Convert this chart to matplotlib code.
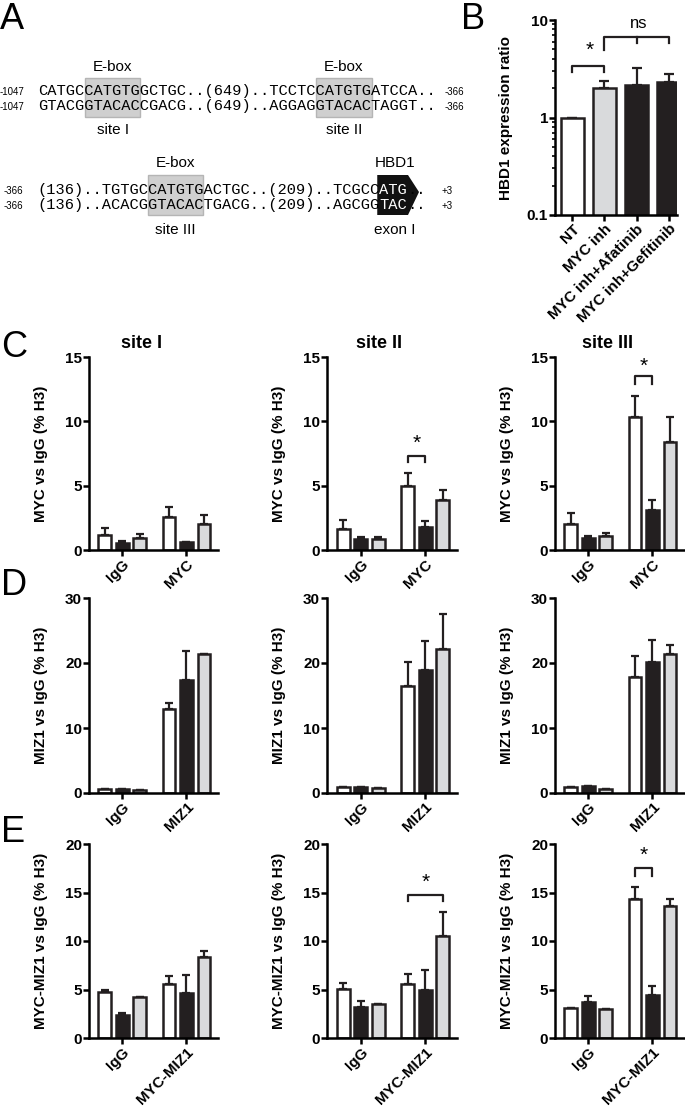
import matplotlib
matplotlib.use('Agg')
import matplotlib.pyplot as plt
from matplotlib.patches import Rectangle, Polygon
import numpy as np

plt.rcParams['font.family'] = ['Liberation Sans', 'DejaVu Sans']
plt.rcParams['font.weight'] = 'bold'
plt.rcParams['axes.labelweight'] = 'bold'

# ---- dados ----
b_labels = ['NT', 'MYC inh', 'MYC inh+Afatinib', 'MYC inh+Gefitinib']
b_vals = [1.0, 2.0, 2.15, 2.3]
b_err = [0.0, 0.37, 1.05, 0.49]
b_colors = ['white', '#d9dadc', '#231f20', '#231f20']

sites = ['site I', 'site II', 'site III']
bar_colors = ['white', '#231f20', '#d9dadc', 'white', '#231f20', '#d9dadc']

myc_means = [[1.15, 0.56, 0.95, 2.56, 0.59, 2.05],
             [1.62, 0.82, 0.82, 4.95, 1.77, 3.90],
             [2.03, 0.90, 1.10, 10.33, 3.10, 8.40]]
myc_errs = [[0.55, 0.13, 0.28, 0.77, 0.05, 0.69],
            [0.68, 0.21, 0.21, 1.00, 0.46, 0.77],
            [0.82, 0.20, 0.25, 1.67, 0.80, 1.93]]

miz_means = [[0.6, 0.6, 0.5, 12.9, 17.4, 21.4],
             [0.9, 0.9, 0.7, 16.5, 19.0, 22.1],
             [0.9, 1.1, 0.6, 17.8, 20.2, 21.4]]
miz_errs = [[0, 0, 0, 1.0, 4.5, 0],
            [0, 0, 0, 3.7, 4.4, 5.5],
            [0, 0, 0, 3.3, 3.3, 1.4]]

mm_means = [[4.77, 2.33, 4.25, 5.56, 4.67, 8.40],
            [5.04, 3.19, 3.50, 5.60, 4.97, 10.53],
            [3.05, 3.74, 2.98, 14.34, 4.39, 13.62]]
mm_errs = [[0.20, 0.24, 0, 0.82, 1.81, 0.60],
           [0.66, 0.58, 0, 0.99, 1.99, 2.44],
           [0, 0.55, 0, 1.20, 1.00, 0.75]]

# colchetes de significancia: (linha, site, barra1, barra2, y_pernas, y_topo, y_estrela)
brackets = [('C', 1, 3, 4, 6.85, 7.3, 8.3),
            ('C', 2, 3, 4, 12.9, 13.5, 14.3),
            ('E', 1, 3, 5, 14.1, 14.75, 16.1),
            ('E', 2, 3, 4, 16.7, 17.5, 18.8)]

W, H = 685, 1106
fig = plt.figure(figsize=(W / 100, H / 100), dpi=100)


def px_axes(x0, y0, x1, y1):
    return fig.add_axes([x0 / W, 1 - y1 / H, (x1 - x0) / W, (y1 - y0) / H])


def prism(ax):
    for s in ['top', 'right']:
        ax.spines[s].set_visible(False)
    for s in ['left', 'bottom']:
        ax.spines[s].set_linewidth(1.8)
    ax.tick_params(width=1.8, length=4, labelsize=11, pad=1)
    ax.tick_params(axis='x', direction='out')


# ---- painel A (camada de fundo em pixels) ----
ax0 = fig.add_axes([0, 0, 1, 1])
ax0.set_xlim(0, W)
ax0.set_ylim(H, 0)
ax0.axis('off')

mono = dict(family='Liberation Mono', fontsize=11.1, fontweight='normal', va='baseline')
cw = 11.1 / 72 * 100 * 0.6
sans = dict(fontsize=11, fontweight='normal', ha='center', va='center')

for lbl, x, y in [('A', 0, 2), ('B', 461, 2), ('C', 1, 330), ('D', 1, 568), ('E', 1, 815)]:
    ax0.text(x, y, lbl, fontsize=26, fontweight='normal', va='top', ha='left')

x1 = 38.6
ax0.add_patch(Rectangle((x1 + 5 * cw, 78), 6 * cw, 39, fc='#cfcfcf', ec='#b5b5b5', lw=1))
ax0.add_patch(Rectangle((x1 + 30 * cw, 78), 6 * cw, 39, fc='#cfcfcf', ec='#b5b5b5', lw=1))
ax0.text(x1, 95, 'CATGCCATGTGGCTGC..(649)..TCCTCCATGTGATCCA..', **mono)
ax0.text(x1, 110, 'GTACGGTACACCGACG..(649)..AGGAGGTACACTAGGT..', **mono)
ax0.text(x1 + 8 * cw, 67, 'E-box', **sans)
ax0.text(x1 + 33 * cw, 67, 'E-box', **sans)
ax0.text(x1 + 8 * cw, 130, 'site I', **sans)
ax0.text(x1 + 33 * cw, 130, 'site II', **sans)
for y in [95, 110]:
    ax0.text(0, y, '-1047', fontsize=7, fontweight='normal', va='baseline')
    ax0.text(445, y, '-366', fontsize=7, fontweight='normal', va='baseline')

x2 = 37.0
ax0.add_patch(Rectangle((x2 + 12 * cw, 175), 6 * cw, 40, fc='#cfcfcf', ec='#b5b5b5', lw=1))
ax0.add_patch(Polygon([(x2 + 37 * cw - 2, 175), (408, 175), (419, 192), (408, 215),
                       (x2 + 37 * cw - 2, 215)], closed=True, fc='#111111', ec='none'))
for y, pre, ex in [(194, '(136)..TGTGCCATGTGACTGC..(209)..TCGCC', 'ATG'),
                   (209, '(136)..ACACGGTACACTGACG..(209)..AGCGG', 'TAC')]:
    ax0.text(x2, y, pre, **mono)
    ax0.text(x2 + 37 * cw, y, ex, color='white', **mono)
    ax0.text(x2 + 40 * cw, y, '..', **mono)
ax0.text(x2 + 15 * cw, 163, 'E-box', **sans)
ax0.text(x2 + 15 * cw, 230, 'site III', **sans)
ax0.text(395, 163, 'HBD1', **sans)
ax0.text(395, 230, 'exon I', **sans)
for y in [194, 209]:
    ax0.text(4, y, '-366', fontsize=7, fontweight='normal', va='baseline')
    ax0.text(442, y, '+3', fontsize=7, fontweight='normal', va='baseline')

# ---- painel B ----
axb = px_axes(555, 20, 677, 215)
xb = np.arange(len(b_labels))
axb.bar(xb, b_vals, width=0.71, color=b_colors, edgecolor='#231f20', linewidth=1.8, zorder=2)
axb.errorbar(xb, b_vals, yerr=[np.zeros(4), b_err], fmt='none', ecolor='#231f20',
             elinewidth=1.6, capsize=3.5, capthick=1.6, zorder=1)
axb.set_yscale('log')
axb.set_ylim(0.1, 10)
axb.set_xlim(-0.53, 3.25)
prism(axb)
axb.tick_params(which='minor', width=1.2, length=2.5)
axb.set_yticks([0.1, 1, 10])
axb.set_yticklabels(['0.1', '1', '10'])
axb.set_xticks(xb)
axb.set_xticklabels(b_labels, rotation=45, ha='right', rotation_mode='anchor')
axb.set_ylabel('HBD1 expression ratio', fontsize=11, labelpad=10)
kb = dict(color='#231f20', lw=1.6, clip_on=False)
axb.plot([0, 0, 1, 1], [2.93, 3.37, 3.37, 2.93], **kb)
axb.text(0.55, 4.9, '*', fontsize=15, ha='center', va='center', fontweight='normal')
axb.plot([1, 1, 3, 3], [4.9, 6.7, 6.7, 5.8], **kb)
axb.plot([2, 2], [6.7, 5.8], **kb)
axb.text(2.05, 9.3, 'ns', fontsize=12, ha='center', va='center', fontweight='normal')

# ---- paineis C, D, E ----
xpos = np.array([-1, 0, 1, 2.66, 3.66, 4.66])
col_x = [(89, 218), (327, 457), (555, 684)]
rows = [('C', 357, 550, myc_means, myc_errs, 15, [0, 5, 10, 15], 'MYC vs IgG (% H3)', ['IgG', 'MYC']),
        ('D', 598, 793, miz_means, miz_errs, 30, [0, 10, 20, 30], 'MIZ1 vs IgG (% H3)', ['IgG', 'MIZ1']),
        ('E', 844, 1038, mm_means, mm_errs, 20, [0, 5, 10, 15, 20], 'MYC-MIZ1 vs IgG (% H3)',
         ['IgG', 'MYC-MIZ1'])]

for name, top, bot, means, errs, ymax, yt, ylab, xl in rows:
    for i in range(3):
        ax = px_axes(col_x[i][0], top, col_x[i][1], bot)
        ax.bar(xpos, means[i], width=0.74, color=bar_colors, edgecolor='#231f20',
               linewidth=1.8, zorder=2)
        ax.errorbar(xpos, means[i], yerr=[np.zeros(6), errs[i]], fmt='none', ecolor='#231f20',
                    elinewidth=1.6, capsize=3, capthick=1.6, zorder=1)
        ax.set_ylim(0, ymax)
        ax.set_xlim(-1.91, 5.46)
        prism(ax)
        ax.set_yticks(yt)
        ax.set_xticks([0, 3.66])
        ax.set_xticklabels(xl, rotation=45, ha='right', rotation_mode='anchor')
        ax.set_ylabel(ylab, fontsize=11, labelpad=12)
        for r, s, b1, b2, yl, yh, ys in brackets:
            if r == name and s == i:
                ax.plot([xpos[b1], xpos[b1], xpos[b2], xpos[b2]], [yl, yh, yh, yl],
                        color='#231f20', lw=1.6, clip_on=False)
                ax.text((xpos[b1] + xpos[b2]) / 2, ys, '*', fontsize=15, ha='center',
                        va='center', fontweight='normal')

for t, x in zip(sites, [142, 379, 608]):
    ax0.text(x, 343, t, fontsize=13, ha='center', va='center')

fig.savefig('out.png', dpi=100)
